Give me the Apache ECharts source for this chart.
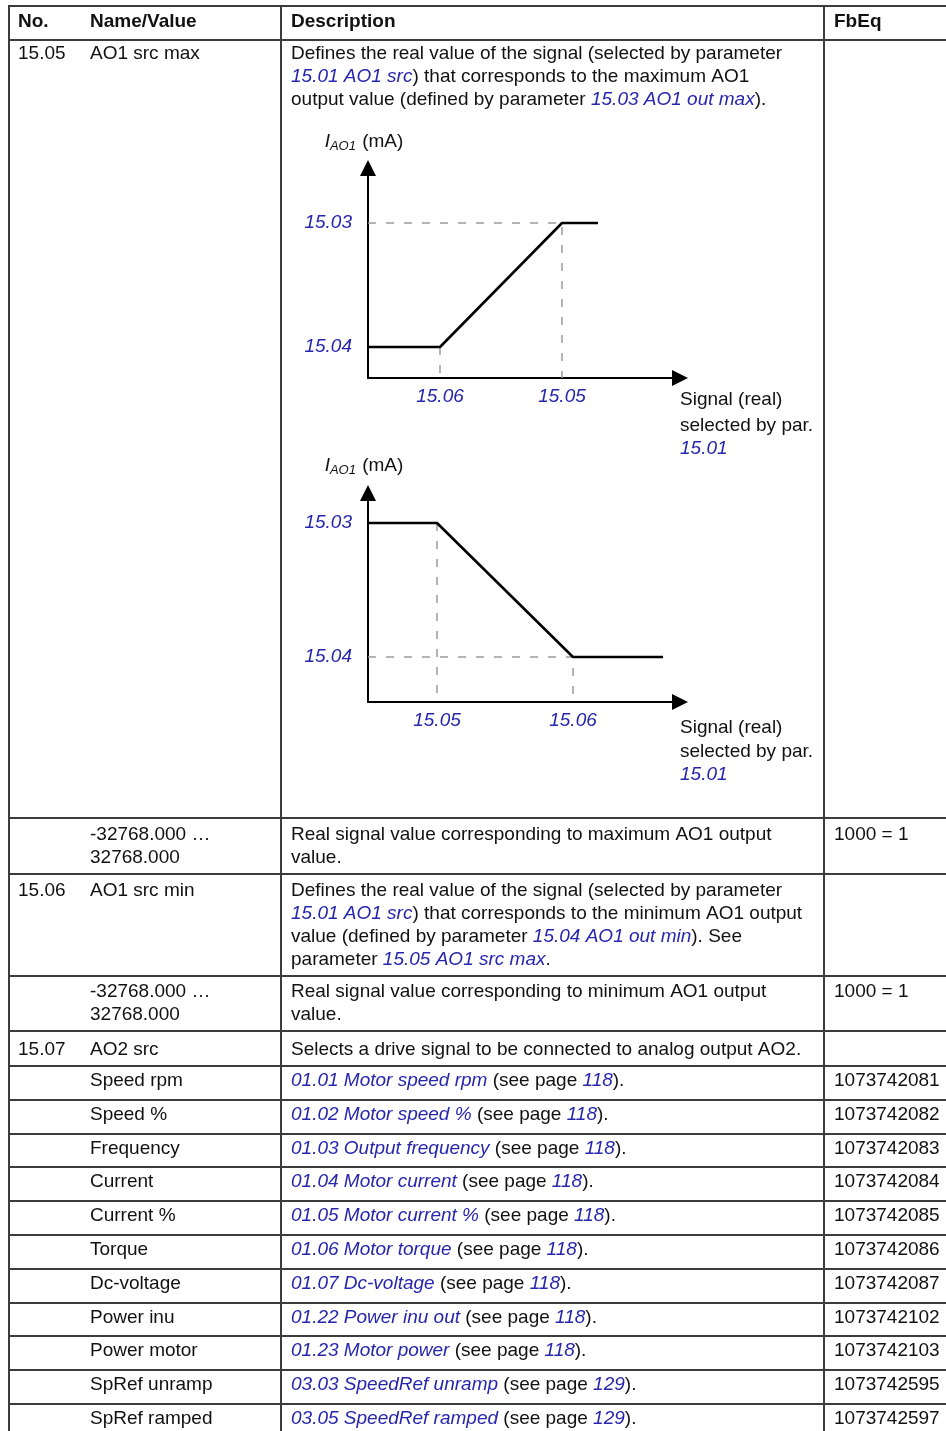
<!DOCTYPE html>
<html><head><meta charset="utf-8">
<script src="https://cdn.jsdelivr.net/npm/echarts@6/dist/echarts.min.js"></script>
<style>html,body{margin:0;padding:0;background:#fff}#c{width:946px;height:1431px}</style>
</head><body><div id="c"></div>
<script>
// ---------- DATA ----------
// Diagram 1 (rising characteristic)
const d1Signal = [0, 7.2, 19.4, 23.0];
const d1Current = [3.1, 3.1, 15.5, 15.5];
const d1XTicks = [7.2, 19.4];
const d1XTickLabels = ['15.06', '15.05'];
const d1YTicks = [3.1, 15.5];
const d1YTickLabels = ['15.04', '15.03'];
// Diagram 2 (falling characteristic)
const d2Signal = [0, 6.9, 20.5, 29.5];
const d2Current = [17.9, 17.9, 4.5, 4.5];
const d2XTicks = [6.9, 20.5];
const d2XTickLabels = ['15.05', '15.06'];
const d2YTicks = [4.5, 17.9];
const d2YTickLabels = ['15.04', '15.03'];

// Table
const headers = ['No.', 'Name/Value', 'Description', 'FbEq'];
const colNo = ['15.05', '', '15.06', '', '15.07', '', '', '', '', '', '', '', '', '', '', ''];
const colName = ['AO1 src max', '-32768.000 …\n32768.000', 'AO1 src min', '-32768.000 …\n32768.000', 'AO2 src',
  'Speed rpm', 'Speed %', 'Frequency', 'Current', 'Current %', 'Torque', 'Dc-voltage', 'Power inu', 'Power motor', 'SpRef unramp', 'SpRef ramped'];
const colDesc = [
  'Defines the real value of the signal (selected by parameter\n{l|15.01 AO1 src}) that corresponds to the maximum AO1\noutput value (defined by parameter {l|15.03 AO1 out max}).',
  'Real signal value corresponding to maximum AO1 output\nvalue.',
  'Defines the real value of the signal (selected by parameter\n{l|15.01 AO1 src}) that corresponds to the minimum AO1 output\nvalue (defined by parameter {l|15.04 AO1 out min}). See\nparameter {l|15.05 AO1 src max}.',
  'Real signal value corresponding to minimum AO1 output\nvalue.',
  'Selects a drive signal to be connected to analog output AO2.',
  '{l|01.01 Motor speed rpm} (see page {l|118}).',
  '{l|01.02 Motor speed %} (see page {l|118}).',
  '{l|01.03 Output frequency} (see page {l|118}).',
  '{l|01.04 Motor current} (see page {l|118}).',
  '{l|01.05 Motor current %} (see page {l|118}).',
  '{l|01.06 Motor torque} (see page {l|118}).',
  '{l|01.07 Dc-voltage} (see page {l|118}).',
  '{l|01.22 Power inu out} (see page {l|118}).',
  '{l|01.23 Motor power} (see page {l|118}).',
  '{l|03.03 SpeedRef unramp} (see page {l|129}).',
  '{l|03.05 SpeedRef ramped} (see page {l|129}).'
];
const colFbEq = ['', '1000 = 1', '', '1000 = 1', '', '1073742081', '1073742082', '1073742083', '1073742084',
  '1073742085', '1073742086', '1073742087', '1073742102', '1073742103', '1073742595', '1073742597'];

// ---------- LAYOUT ----------
const FONT = '"Liberation Sans", Arial, sans-serif';
const BLUE = '#2626ae';
const INK = '#111';
const GRIDC = '#3c3c3c';
const LH = 23;
const rowLines = [6, 40, 818, 874, 976, 1031, 1066, 1100, 1134, 1167, 1201, 1235, 1269, 1303, 1336, 1370, 1404, 1438];
const firstLineCenter = [53.3, 835, 891, 991.7, 1050, 1080.7, 1114.7, 1148.5, 1182, 1215.5, 1249.5, 1283.5, 1317.5, 1351, 1384.5, 1418.3];
const headerCenter = 21.7;
const colX = [18, 90, 291, 834];
const vLines = [9, 281, 824];

const RICH = {
  l: {fill: BLUE, fontStyle: 'italic', fontSize: 19, fontFamily: FONT, lineHeight: LH}
};

function txt(x, yc, text, extra) {
  return {
    type: 'text', x: x, y: yc - LH / 2, silent: true, z: 10,
    style: Object.assign({text: text, fill: INK, fontSize: 19, fontFamily: FONT, lineHeight: LH,
      align: 'left', verticalAlign: 'top', rich: RICH}, extra || {})
  };
}

const graphics = [];
rowLines.forEach(function (y) {
  graphics.push({type: 'line', silent: true, z: 5, shape: {x1: vLines[0] - 1, y1: y, x2: 946, y2: y},
    style: {stroke: GRIDC, lineWidth: 2}});
});
vLines.forEach(function (x) {
  graphics.push({type: 'line', silent: true, z: 5, shape: {x1: x, y1: rowLines[0], x2: x, y2: rowLines[rowLines.length - 1]},
    style: {stroke: GRIDC, lineWidth: 2}});
});
headers.forEach(function (h, i) {
  graphics.push(txt(colX[i], headerCenter, h, {fontWeight: 'bold'}));
});
for (let i = 0; i < colName.length; i++) {
  const yc = firstLineCenter[i];
  if (colNo[i]) graphics.push(txt(colX[0], yc, colNo[i]));
  if (colName[i]) graphics.push(txt(colX[1], yc, colName[i]));
  if (colDesc[i]) graphics.push(txt(colX[2], yc, colDesc[i]));
  if (colFbEq[i]) graphics.push(txt(colX[3], yc, colFbEq[i]));
}
// signal captions next to the x-axis arrows
[[400, 426, 449], [728, 752, 775]].forEach(function (ys) {
  graphics.push(txt(680, ys[0], 'Signal (real)'));
  graphics.push(txt(680, ys[1], 'selected by par.'));
  graphics.push(txt(680, ys[2], '{l|15.01}'));
});

function lookup(vals, labs) {
  return function (v) {
    for (let k = 0; k < vals.length; k++) if (Math.abs(vals[k] - v) < 1e-6) return labs[k];
    return '';
  };
}
function pairs(xs, ys) { return xs.map(function (x, i) { return [x, ys[i]]; }); }

const axisLineStyle = {show: true, symbol: ['none', 'triangle'], symbolSize: [16, 16],
  lineStyle: {color: '#000', width: 2}};
const tickLabelStyle = {color: BLUE, fontStyle: 'italic', fontSize: 19, fontFamily: FONT};
const yName = '{i|I}{s|AO1} (mA)';
const yNameStyle = {color: INK, fontSize: 19, fontFamily: FONT, padding: [0, 8, 0, 0],
  rich: {i: {fontStyle: 'italic', fontSize: 19, fontFamily: FONT, color: INK},
         s: {fontStyle: 'italic', fontSize: 13, fontFamily: FONT, color: INK, padding: [9, 1, 0, 0]}}};

function xAxisFor(gi, ticks, labels) {
  return {type: 'value', gridIndex: gi, min: 0, max: 31.2, splitLine: {show: false},
    axisLine: axisLineStyle, axisTick: {show: false},
    axisLabel: Object.assign({customValues: ticks, margin: 9, formatter: lookup(ticks, labels)}, tickLabelStyle)};
}
function yAxisFor(gi, ymax, gap, ticks, labels, pad) {
  return {type: 'value', gridIndex: gi, min: 0, max: ymax, splitLine: {show: false},
    axisLine: axisLineStyle, axisTick: {show: false},
    name: yName, nameLocation: 'end', nameGap: gap, nameTextStyle: yNameStyle,
    axisLabel: Object.assign({customValues: ticks, margin: 16, padding: pad, formatter: lookup(ticks, labels)}, tickLabelStyle)};
}

const solid = {color: '#000', width: 2.6};
const dash = {color: '#9a9a9a', width: 1.5, type: [8, 10]};
function ser(gi, data, style, z) {
  return {type: 'line', xAxisIndex: gi, yAxisIndex: gi, data: data, symbol: 'none', showSymbol: false,
    lineStyle: style, silent: true, animation: false, z: z};
}

const option = {
  backgroundColor: '#fff',
  animation: false,
  grid: [
    {left: 368, top: 168, width: 312, height: 210, containLabel: false},
    {left: 368, top: 493, width: 312, height: 209, containLabel: false}
  ],
  xAxis: [xAxisFor(0, d1XTicks, d1XTickLabels), xAxisFor(1, d2XTicks, d2XTickLabels)],
  yAxis: [yAxisFor(0, 21.0, 15, d1YTicks, d1YTickLabels, [0, 0, 0, 0]),
          yAxisFor(1, 20.9, 16, d2YTicks, d2YTickLabels, [0, 0, 10, 0])],
  series: [
    ser(0, [[0, d1YTicks[1]], [d1XTicks[1], d1YTicks[1]], [d1XTicks[1], 0]], dash, 2),
    ser(0, [[d1XTicks[0], d1YTicks[0]], [d1XTicks[0], 0]], dash, 2),
    ser(0, pairs(d1Signal, d1Current), solid, 3),
    ser(1, [[0, d2YTicks[0]], [d2XTicks[1], d2YTicks[0]], [d2XTicks[1], 0]], dash, 2),
    ser(1, [[d2XTicks[0], d2YTicks[1]], [d2XTicks[0], 0]], dash, 2),
    ser(1, pairs(d2Signal, d2Current), solid, 3)
  ],
  graphic: graphics
};

const chart = echarts.init(document.getElementById('c'), null, {renderer: 'canvas', width: 946, height: 1431});
chart.setOption(option);
</script>
</body></html>
